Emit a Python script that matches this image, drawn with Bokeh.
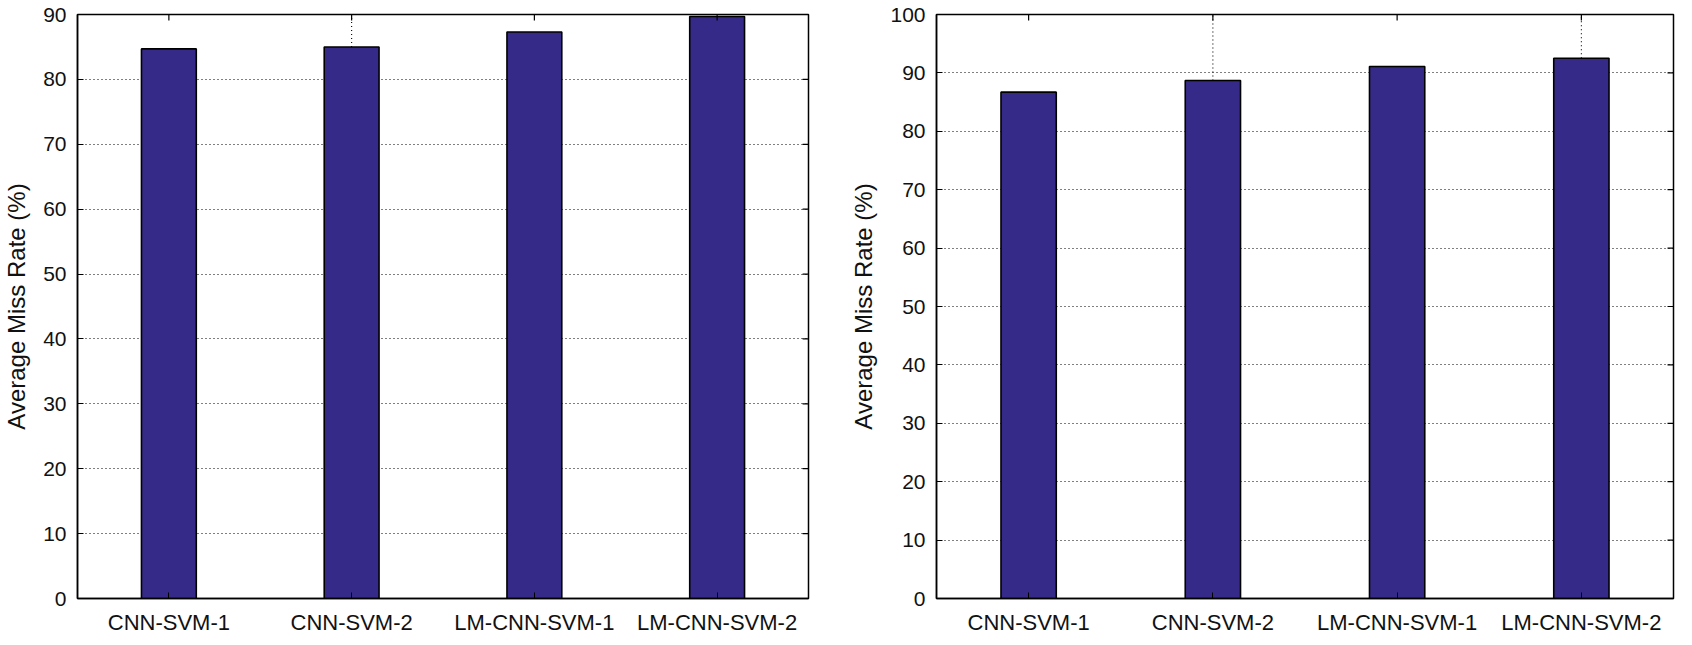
from bokeh.plotting import figure
from bokeh.layouts import row
from bokeh.models import FactorRange, Range1d, FixedTicker
from bokeh.embed import file_html
from bokeh.resources import INLINE

categories = ["CNN-SVM-1", "CNN-SVM-2", "LM-CNN-SVM-1", "LM-CNN-SVM-2"]
left_values = [84.7, 85.0, 87.3, 89.7]
right_values = [86.7, 88.7, 91.1, 92.5]
left_ymax = 90
right_ymax = 100
left_ticks = [0, 10, 20, 30, 40, 50, 60, 70, 80, 90]
right_ticks = [0, 10, 20, 30, 40, 50, 60, 70, 80, 90, 100]
# categories whose dotted vertical guide is visible above the bar
left_guides = [False, True, False, False]
right_guides = [False, True, False, True]
y_label = "Average Miss Rate (%)"

BAR_COLOR = "#352A87"
FONT = "Liberation Sans"
HEIGHT = 637
MB_TOP = 14
MB_BOTTOM = 36
TICK_PX = 6


def make_fig(values, ymax, ticks, guides, width, mb_left, mb_right):
    p = figure(
        x_range=FactorRange(factors=categories, range_padding=0),
        y_range=Range1d(0, ymax),
        width=width, height=HEIGHT,
        output_backend="svg", toolbar_location=None,
        min_border_left=mb_left, min_border_right=mb_right,
        min_border_top=MB_TOP, min_border_bottom=MB_BOTTOM,
    )
    p.background_fill_color = "white"
    p.border_fill_color = "white"
    p.outline_line_color = "black"
    p.outline_line_width = 1.5
    p.outline_line_alpha = 1.0

    # grid
    p.xgrid.visible = False
    p.ygrid.grid_line_color = "black"
    p.ygrid.grid_line_dash = "1 3"
    p.ygrid.grid_line_width = 1.1
    p.ygrid.grid_line_alpha = 1.0

    # dotted vertical guides above selected bars
    gx = [c for c, g in zip(categories, guides) if g]
    gy0 = [v for v, g in zip(values, guides) if g]
    gy1 = [ymax for g in guides if g]
    if gx:
        p.segment(x0=gx, y0=gy0, x1=gx, y1=gy1, line_color="black",
                  line_dash="1 3", line_width=1.1)

    p.vbar(x=categories, top=values, width=0.3, fill_color=BAR_COLOR,
           line_color="black", line_width=1.6)

    # mirrored inward ticks on the top and right edges
    frame_h = HEIGHT - MB_TOP - MB_BOTTOM
    frame_w = width - mb_left - mb_right
    dy = ymax * TICK_PX / frame_h
    dx = len(categories) * TICK_PX / frame_w
    last = categories[-1]
    p.segment(x0=categories, y0=[ymax] * len(categories),
              x1=categories, y1=[ymax - dy] * len(categories),
              line_color="black", line_width=1.2)
    p.segment(x0=[(last, 0.5)] * len(ticks), y0=ticks,
              x1=[(last, 0.5 - dx)] * len(ticks), y1=ticks,
              line_color="black", line_width=1.2)

    # bottom axis
    xa = p.xaxis[0]
    xa.axis_line_color = "black"
    xa.axis_line_width = 1.5
    xa.major_tick_in = TICK_PX
    xa.major_tick_out = 0
    xa.major_tick_line_color = "black"
    xa.major_label_text_font = FONT
    xa.major_label_text_font_size = "22px"
    xa.major_label_text_color = "#111111"
    xa.major_label_standoff = 11

    # left axis
    ya = p.yaxis[0]
    ya.ticker = FixedTicker(ticks=ticks)
    ya.axis_line_color = "black"
    ya.axis_line_width = 1.5
    ya.major_tick_in = TICK_PX
    ya.major_tick_out = 0
    ya.minor_tick_in = 0
    ya.minor_tick_out = 0
    ya.major_tick_line_color = "black"
    ya.major_label_text_font = FONT
    ya.major_label_text_font_size = "21px"
    ya.major_label_text_color = "#111111"
    ya.major_label_standoff = 11
    ya.axis_label = y_label
    ya.axis_label_text_font = FONT
    ya.axis_label_text_font_size = "24px"
    ya.axis_label_text_font_style = "normal"
    ya.axis_label_text_color = "#111111"
    ya.axis_label_standoff = 10
    return p


p1 = make_fig(left_values, left_ymax, left_ticks, left_guides, 847, 66, 39)
p2 = make_fig(right_values, right_ymax, right_ticks, right_guides, 829, 88, 3)

layout = row(p1, p2)
open("out.html", "w").write(file_html(layout, INLINE))
